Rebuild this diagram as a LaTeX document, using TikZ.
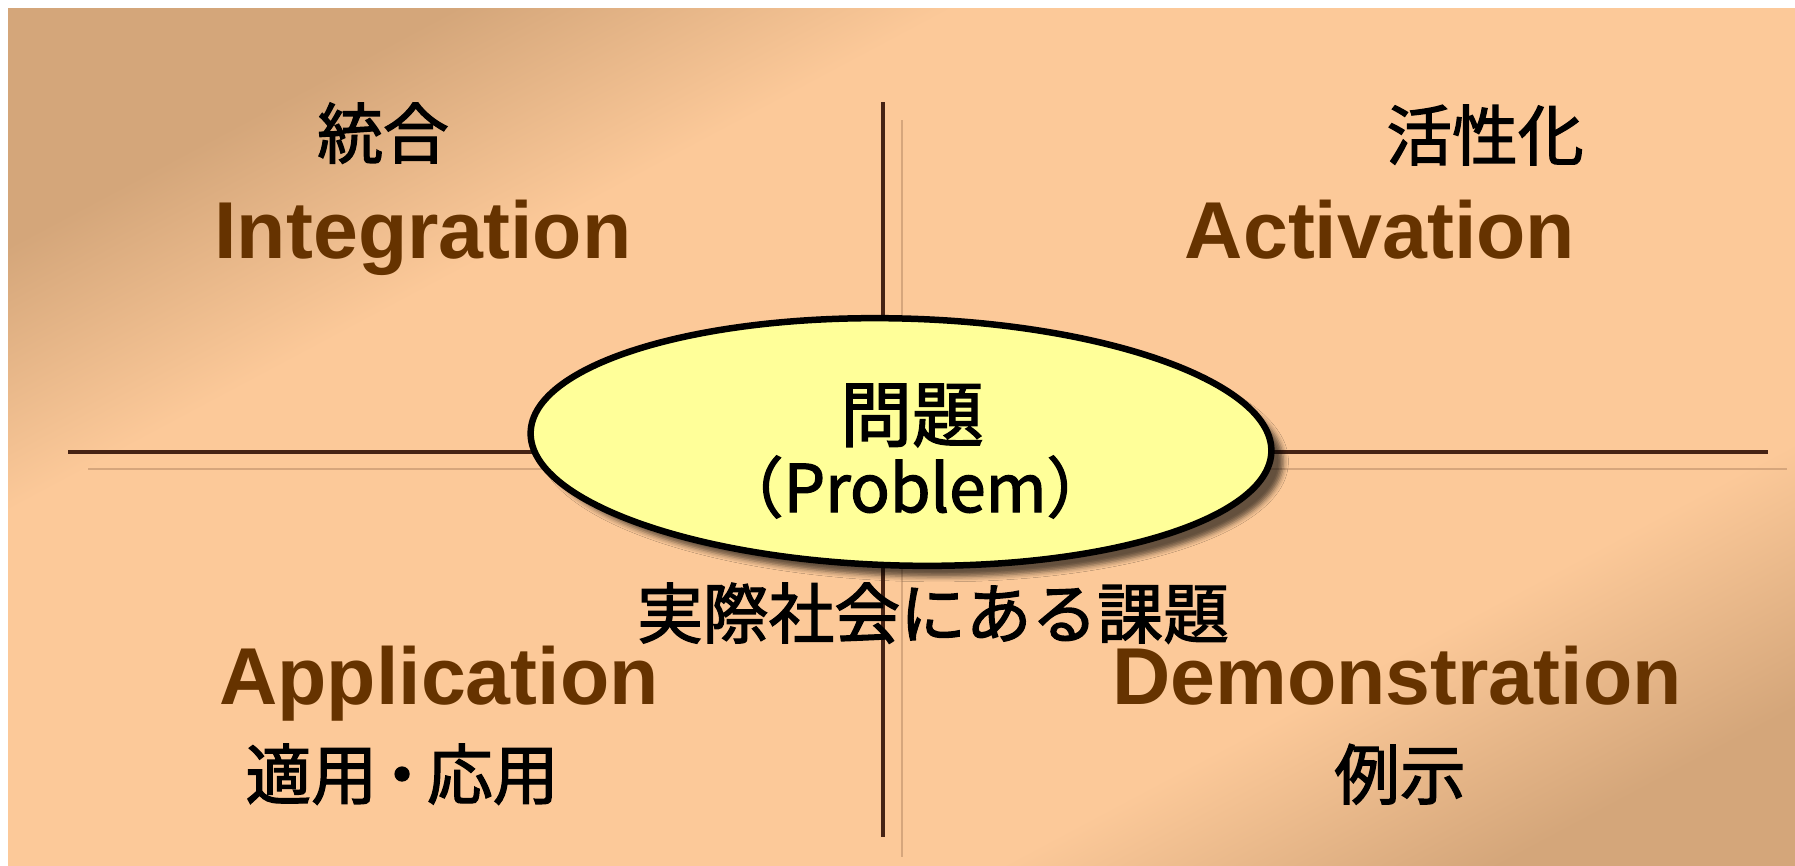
\documentclass[tikz,border=0pt]{standalone}
\usepackage{fontspec}
\setmainfont{Liberation Sans}
\newfontfamily\cjk[FakeBold=2]{Noto Sans CJK JP}
\usetikzlibrary{shapes.geometric,shadows.blur}
\definecolor{tanc}{RGB}{212,166,122}
\definecolor{peach}{RGB}{252,201,153}
\definecolor{brownt}{RGB}{102,51,0}
\definecolor{axisc}{RGB}{70,35,20}
\definecolor{axshadow}{RGB}{214,166,124}
\definecolor{yel}{RGB}{255,255,153}
\pgfdeclarehorizontalshading{bgshade}{100bp}{color(0bp)=(tanc); color(25bp)=(tanc); color(35bp)=(peach); color(68bp)=(peach); color(78bp)=(tanc); color(100bp)=(tanc)}
\begin{document}
\begin{tikzpicture}[x=1bp,y=-1bp,
  en/.style={font=\fontsize{81}{90}\selectfont\bfseries, text=brownt, anchor=base, inner sep=0},
  jp/.style={font=\cjk\fontsize{66}{72}\selectfont, text=black, anchor=base, inner sep=0},
  axisline/.style={draw=axisc, line width=3.2bp},
  axshade/.style={draw=axshadow, line width=2.8bp},
  probbox/.style={ellipse, draw=black, line width=6.5bp, fill=yel, inner sep=0,
    minimum width=741bp, minimum height=247bp,
    blur shadow={shadow xshift=12bp, shadow yshift=-11bp, shadow opacity=60, shadow blur radius=5bp}}]
\useasboundingbox (0,0) rectangle (1795,866);
\fill[white] (0,0) rectangle (1795,866);
\shade[shading=bgshade, shading angle=-62] (8,8) rectangle (1795,866);
% axes
\coordinate (vt) at (883,102); \coordinate (vb) at (883,837);
\coordinate (vst) at (902,120); \coordinate (vsb) at (902,857);
\coordinate (hl) at (68,452); \coordinate (hr) at (1768,452);
\coordinate (hsl) at (88,469); \coordinate (hsr) at (1787,469);
\draw[axshade] (vst) -- (vsb);
\draw[axshade] (hsl) -- (hsr);
\draw[axisline] (vt) -- (vb);
\draw[axisline] (hl) -- (hr);
% central ellipse
\node[probbox, rotate=-1.5] (prob) at (901,442) {};
\node[jp, font=\cjk\fontsize{72}{78}\selectfont] (mondai) at (912,441) {問題};
\node[jp] (problem) at (915,512) {（Problem）};
\node[jp] (kadai) at (933,638) {実際社会にある課題};
% quadrants
\node[jp] (tougou) at (383,158) {統合};
\node[en] (integ) at (423,258) {Integration};
\node[jp] (kasseika) at (1485,160) {活性化};
\node[en] (activ) at (1380,258) {Activation};
\node[en] (appl) at (439,704) {Application};
\node[jp] (tekiyou) at (402,799) {適用\kern-0.12em・\kern-0.12em応用};
\node[en] (demo) at (1397,704) {Demonstration};
\node[jp] (reiji) at (1400,799) {例示};
\end{tikzpicture}
\end{document}
